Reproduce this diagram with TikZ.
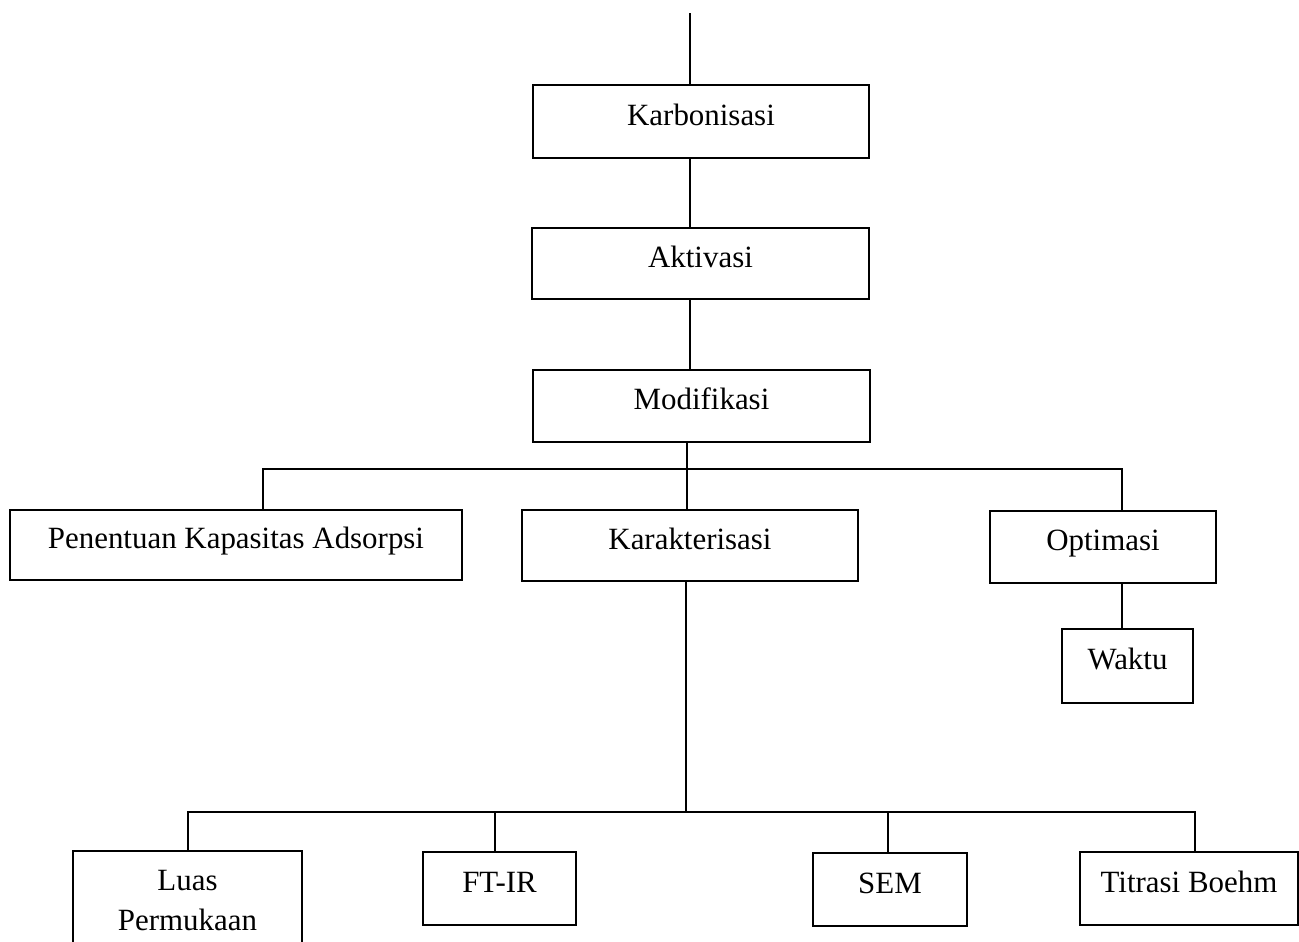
\documentclass[tikz,border=0pt]{standalone}
\usepackage{fontspec}
\setmainfont{Liberation Serif}
\usepackage{tikz}
\usetikzlibrary{positioning}

\begin{document}
\begin{tikzpicture}[
    x=0.02cm, y=-0.02cm,
    box/.style={
        rectangle,
        draw=black, line width=0.7pt,
        font=\fontsize{17.6}{22.7}\selectfont,
        text height=0.45cm, text depth=0.31cm,
        inner sep=0pt
    },
    twoline/.style={
        rectangle,
        draw=black, line width=0.7pt,
        font=\fontsize{17.6}{22.7}\selectfont,
        align=center,
        inner sep=0pt
    },
    link/.style={line width=0.6pt}
]
\useasboundingbox (0,0) rectangle (1299,941);
\clip (0,0) rectangle (1299,941);

% main stages
\node[box, minimum width=6.72cm, minimum height=1.46cm] (karbon) at (701,121.5) {Karbonisasi};
\node[box, minimum width=6.74cm, minimum height=1.42cm] (aktiv) at (700.5,263.5) {Aktivasi};
\node[box, minimum width=6.74cm, minimum height=1.44cm] (modif) at (701.5,406) {Modifikasi};

% second level
\node[box, minimum width=9.04cm, minimum height=1.40cm] (kapasitas) at (236,545) {Penentuan Kapasitas Adsorpsi};
\node[box, minimum width=6.72cm, minimum height=1.42cm] (karakter) at (690,545.5) {Karakterisasi};
\node[box, minimum width=4.52cm, minimum height=1.44cm] (optimasi) at (1103,547) {Optimasi};
\node[box, minimum width=2.62cm, minimum height=1.48cm] (waktu) at (1127.5,666) {Waktu};

% characterisation methods
\node[twoline, minimum width=4.58cm, minimum height=1.98cm] (luas) at (187.5,900.5) {Luas\\Permukaan};
\node[box, minimum width=3.06cm, minimum height=1.46cm] (ftir) at (499.5,888.5) {FT-IR};
\node[box, minimum width=3.08cm, minimum height=1.46cm] (sem) at (890,889.5) {SEM};
\node[box, minimum width=4.36cm, minimum height=1.46cm] (boehm) at (1189,888.5) {Titrasi Boehm};

% junction points
\coordinate (start) at (690,13);
\coordinate (hubA) at (687,469);
\coordinate (hubAl) at (263,469);
\coordinate (hubAr) at (1122,469);
\coordinate (hubB) at (686,812);
\coordinate (hubBl) at (188,812);
\coordinate (hubBf) at (495,812);
\coordinate (hubBs) at (888,812);
\coordinate (hubBr) at (1195,812);

% connecting lines
\draw[link] (start) -- (karbon.north -| start);
\draw[link] (karbon.south -| start) -- (aktiv.north -| start);
\draw[link] (aktiv.south -| start) -- (modif.north -| start);
\draw[link] (modif.south -| hubA) -- (karakter.north -| hubA);
\draw[link] (kapasitas.north -| hubAl) -- (hubAl) -- (hubAr) -- (optimasi.north -| hubAr);
\draw[link] (optimasi.south -| hubAr) -- (waktu.north -| hubAr);
\draw[link] (karakter.south -| hubB) -- (hubB);
\draw[link] (luas.north -| hubBl) -- (hubBl) -- (hubBr) -- (boehm.north -| hubBr);
\draw[link] (hubBf) -- (ftir.north -| hubBf);
\draw[link] (hubBs) -- (sem.north -| hubBs);

\end{tikzpicture}
\end{document}
